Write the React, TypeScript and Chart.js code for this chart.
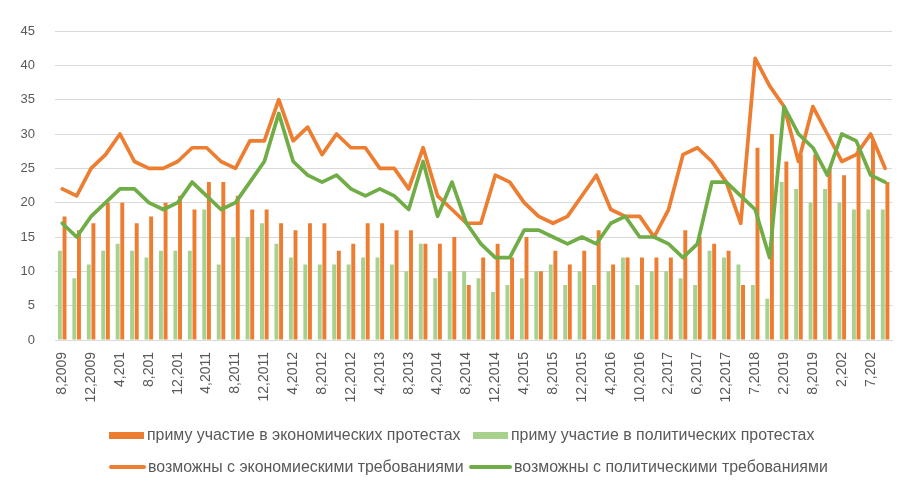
import { useEffect, useRef } from "react";
import { Chart, registerables } from "chart.js";

Chart.register(...registerables);

const categories = [
  "8,2009", "10,2009", "12,2009", "2,201", "4,201", "6,201", "8,201", "10,201", "12,201", "2,2011",
  "4,2011", "6,2011", "8,2011", "10,2011", "12,2011", "2,2012", "4,2012", "6,2012", "8,2012", "10,2012",
  "12,2012", "2,2013", "4,2013", "6,2013", "8,2013", "12,2013", "4,2014", "6,2014", "8,2014", "10,2014",
  "12,2014", "2,2015", "4,2015", "6,2015", "8,2015", "10,2015", "12,2015", "2,2016", "4,2016", "7,2016",
  "10,2016", "12,2016", "2,2017", "4,2017", "6,2017", "9,2017", "12,2017", "4,2018", "7,2018", "11,2018",
  "2,2019", "5,2019", "8,2019", "11,2019", "2,202", "5,202", "7,202", "9,202",
];

const econParticipation = [
  18, 16, 17, 20, 20, 17, 18, 20, 21, 19,
  23, 23, 21, 19, 19, 17, 16, 17, 17, 13,
  14, 17, 17, 16, 16, 14, 14, 15, 8, 12,
  14, 12, 15, 10, 13, 11, 13, 16, 11, 12,
  12, 12, 12, 16, 15, 14, 13, 8, 28, 30,
  26, 27, 27, 25, 24, 28, 29, 23,
];

const polParticipation = [
  13, 9, 11, 13, 14, 13, 12, 13, 13, 13,
  19, 11, 15, 15, 17, 14, 12, 11, 11, 11,
  11, 12, 12, 11, 10, 14, 9, 10, 10, 9,
  7, 8, 9, 10, 11, 8, 10, 8, 10, 12,
  8, 10, 10, 9, 8, 13, 12, 11, 8, 6,
  23, 22, 20, 22, 20, 19, 19, 19,
];

const econPossible = [
  22, 21, 25, 27, 30, 26, 25, 25, 26, 28,
  28, 26, 25, 29, 29, 35, 29, 31, 27, 30,
  28, 28, 25, 25, 22, 28, 21, 19, 17, 17,
  24, 23, 20, 18, 17, 18, 21, 24, 19, 18,
  18, 15, 19, 27, 28, 26, 23, 17, 41, 37,
  34, 26, 34, 30, 26, 27, 30, 25,
];

const polPossible = [
  17, 15, 18, 20, 22, 22, 20, 19, 20, 23,
  21, 19, 20, 23, 26, 33, 26, 24, 23, 24,
  22, 21, 22, 21, 19, 26, 18, 23, 17, 14,
  12, 12, 16, 16, 15, 14, 15, 14, 17, 18,
  15, 15, 14, 12, 14, 23, 23, 21, 19, 12,
  34, 30, 28, 24, 30, 29, 24, 23,
];

const seriesNames = [
  "приму участие в экономических протестах",
  "приму участие в политических протестах",
  "возможны с экономиескими требованиями",
  "возможны с политическими требованиями",
];

const ORANGE = "#ED7D31";
const GREEN_BAR = "#A9D18E";
const GREEN_LINE = "#70AD47";
const TEXT = "#595959";
const GRID = "#d9d9d9";
const FONT = "'Liberation Sans', Arial, sans-serif";

export default function App() {
  const ref = useRef<HTMLCanvasElement>(null);

  useEffect(() => {
    const chart = new Chart(ref.current as HTMLCanvasElement, {
      type: "bar",
      data: {
        labels: categories,
        datasets: [
          {
            type: "bar",
            label: seriesNames[0],
            data: econParticipation,
            backgroundColor: ORANGE,
            categoryPercentage: 0.64,
            barPercentage: 0.85,
            order: 3,
          },
          {
            type: "bar",
            label: seriesNames[1],
            data: polParticipation,
            backgroundColor: GREEN_BAR,
            categoryPercentage: 0.64,
            barPercentage: 0.85,
            order: 2,
          },
          {
            type: "line",
            label: seriesNames[2],
            data: econPossible,
            borderColor: ORANGE,
            backgroundColor: ORANGE,
            borderWidth: 3.7,
            pointRadius: 0,
            tension: 0,
            borderJoinStyle: "round",
            borderCapStyle: "round",
            order: 1,
          },
          {
            type: "line",
            label: seriesNames[3],
            data: polPossible,
            borderColor: GREEN_LINE,
            backgroundColor: GREEN_LINE,
            borderWidth: 3.7,
            pointRadius: 0,
            tension: 0,
            borderJoinStyle: "round",
            borderCapStyle: "round",
            order: 0,
          },
        ] as any,
      },
      options: {
        animation: false,
        responsive: false,
        maintainAspectRatio: false,
        layout: { padding: { top: 31, right: 12, left: 0, bottom: 0 } },
        plugins: { legend: { display: false }, tooltip: { enabled: false } },
        scales: {
          x: {
            grid: { display: false, drawTicks: false },
            border: { color: GRID, width: 1 },
            ticks: {
              autoSkip: false,
              maxRotation: 90,
              minRotation: 90,
              padding: 12,
              color: TEXT,
              font: { family: FONT, size: 14 },
              callback: (_v: any, i: number) => (i % 2 === 0 ? categories[i] : ""),
            },
            afterFit: (s: any) => {
              s.height = 145;
            },
          },
          y: {
            min: 0,
            max: 45,
            ticks: {
              stepSize: 5,
              padding: 20,
              color: TEXT,
              font: { family: FONT, size: 13 },
            },
            grid: { color: GRID, lineWidth: 1, drawTicks: false },
            border: { display: false },
            afterFit: (s: any) => {
              s.width = 55;
            },
          },
        },
      },
    });
    return () => chart.destroy();
  }, []);

  const textStyle: any = {
    position: "absolute",
    transform: "translateY(-50%)",
    fontFamily: FONT,
    fontSize: 15.9,
    color: TEXT,
    whiteSpace: "nowrap",
    lineHeight: "18px",
  };

  return (
    <div style={{ position: "fixed", left: 0, top: 0, width: 914, height: 485, background: "#fff" }}>
      <canvas ref={ref} width={914} height={485} style={{ position: "absolute", left: 0, top: 0, width: 914, height: 485 }} />
      <div style={{ position: "absolute", left: 109, top: 432, width: 35, height: 7, background: ORANGE }} />
      <span style={{ ...textStyle, left: 147, top: 435 }}>{seriesNames[0]}</span>
      <div style={{ position: "absolute", left: 473, top: 432, width: 35, height: 7, background: GREEN_BAR }} />
      <span style={{ ...textStyle, left: 511, top: 435 }}>{seriesNames[1]}</span>
      <div style={{ position: "absolute", left: 109, top: 465, width: 37, height: 4, background: ORANGE, borderRadius: 2 }} />
      <span style={{ ...textStyle, left: 148, top: 467 }}>{seriesNames[2]}</span>
      <div style={{ position: "absolute", left: 469, top: 465, width: 43, height: 4, background: GREEN_LINE, borderRadius: 2 }} />
      <span style={{ ...textStyle, left: 514, top: 467 }}>{seriesNames[3]}</span>
    </div>
  );
}
